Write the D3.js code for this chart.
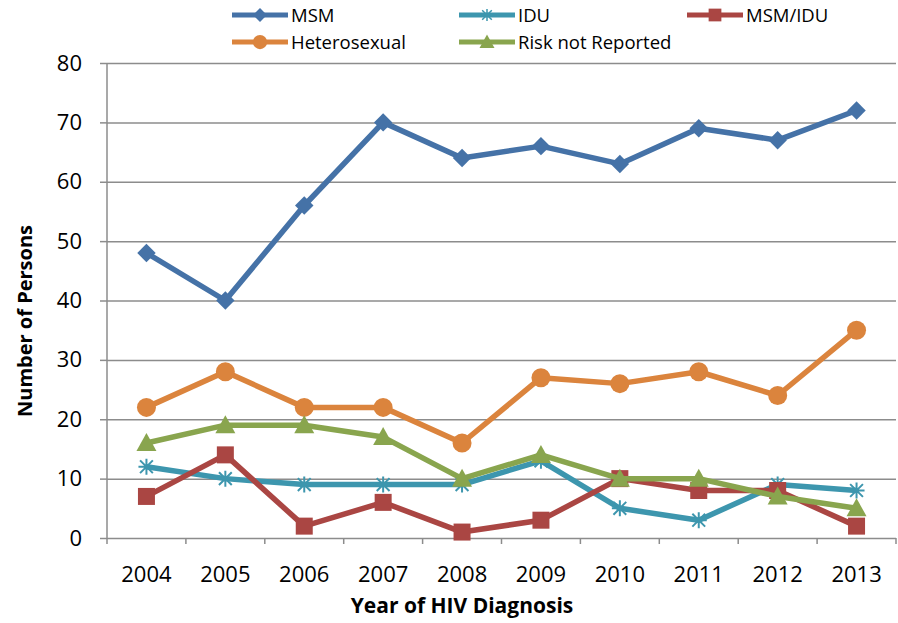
<!DOCTYPE html>
<html lang="en">
<head>
  <meta charset="UTF-8">
  <title>HIV diagnoses by risk</title>
  <style>
    body { margin: 0; background: #fff; }
    text { font-family: "Open Sans", "Noto Sans", sans-serif; fill: #000; }
  </style>
</head>
<body>
  <svg id="svg" width="898" height="623"></svg>
  <script src="https://cdn.jsdelivr.net/npm/d3@7"></script>
  <script>
    const years = ['2004', '2005', '2006', '2007', '2008', '2009', '2010', '2011', '2012', '2013']
    const msm = [48, 40, 56, 70, 64, 66, 63, 69, 67, 72]
    const idu = [12, 10, 9, 9, 9, 13, 5, 3, 9, 8]
    const msmIdu = [7, 14, 2, 6, 1, 3, 10, 8, 8, 2]
    const hetero = [22, 28, 22, 22, 16, 27, 26, 28, 24, 35]
    const notReported = [16, 19, 19, 17, 10, 14, 10, 10, 7, 5]
    const yTicks = [0, 10, 20, 30, 40, 50, 60, 70, 80]

    const series = [
      { name: 'MSM', values: msm, color: '#4572A7', marker: 'diamond' },
      { name: 'IDU', values: idu, color: '#3D96AE', marker: 'star' },
      { name: 'MSM/IDU', values: msmIdu, color: '#AA4643', marker: 'square' },
      { name: 'Heterosexual', values: hetero, color: '#DB843D', marker: 'circle' },
      { name: 'Risk not Reported', values: notReported, color: '#89A54E', marker: 'triangle' }
    ]

    const margin = { top: 63, right: 2, bottom: 85, left: 107 }
    const width = 898 - margin.left - margin.right
    const height = 623 - margin.top - margin.bottom

    const svg = d3.select('#svg')

    const xscale = d3.scaleBand()
      .domain(years)
      .range([margin.left, margin.left + width])

    const yscale = d3.scaleLinear()
      .domain([0, 80])
      .range([margin.top + height, margin.top])

    // gridlines + left axis
    const leftAxis = d3.axisLeft(yscale)
      .tickValues(yTicks)
      .tickSize(-width)
      .tickPadding(25)
    const gy = svg.append('g')
      .attr('transform', `translate(${margin.left}, 0)`)
      .call(leftAxis)
    gy.select('.domain').remove()
    gy.selectAll('.tick line').attr('stroke', '#8c8c8c').attr('stroke-width', 1.5)
    gy.selectAll('.tick').append('line')
      .attr('x1', -7).attr('x2', 0)
      .attr('stroke', '#8c8c8c').attr('stroke-width', 1.5)
    gy.selectAll('.tick text').style('font-size', '22px')

    svg.append('line')
      .attr('x1', margin.left).attr('x2', margin.left)
      .attr('y1', margin.top).attr('y2', margin.top + height)
      .attr('stroke', '#8c8c8c').attr('stroke-width', 1.5)

    // bottom axis
    const bottomAxis = d3.axisBottom(xscale).tickSize(0).tickPadding(28)
    const gx = svg.append('g')
      .attr('transform', `translate(0, ${margin.top + height})`)
      .call(bottomAxis)
    gx.select('.domain').remove()
    gx.selectAll('.tick text').style('font-size', '22px')
    const edges = years.map(y => xscale(y)).concat([margin.left + width])
    gx.selectAll('.edge')
      .data(edges)
      .enter()
      .append('line')
      .attr('x1', d => d).attr('x2', d => d)
      .attr('y1', 0).attr('y2', 6)
      .attr('stroke', '#8c8c8c').attr('stroke-width', 1.5)

    // axis titles
    svg.append('text')
      .attr('x', 462).attr('y', 613)
      .attr('text-anchor', 'middle')
      .style('font-size', '21px').style('font-weight', 'bold')
      .text('Year of HIV Diagnosis')

    svg.append('text')
      .attr('transform', 'translate(32, 321) rotate(-90)')
      .attr('text-anchor', 'middle')
      .style('font-size', '20px').style('font-weight', 'bold')
      .text('Number of Persons')

    // markers
    function drawMarker(g, type, color) {
      if (type === 'diamond') {
        g.append('path').attr('d', d3.symbol().type(d3.symbolSquare).size(170)())
          .attr('transform', 'rotate(45)').attr('fill', color)
      } else if (type === 'square') {
        g.append('path').attr('d', d3.symbol().type(d3.symbolSquare).size(289)())
          .attr('fill', color)
      } else if (type === 'circle') {
        g.append('circle').attr('r', 9.5).attr('fill', color)
      } else if (type === 'triangle') {
        g.append('path').attr('d', 'M0,-10L10,8L-10,8Z').attr('fill', color)
      } else if (type === 'star') {
        const r = 8
        const d = `M0,${-r}V${r}M${-r * 0.8},${-r * 0.8}L${r * 0.8},${r * 0.8}M${r * 0.8},${-r * 0.8}L${-r * 0.8},${r * 0.8}M${-r},0H${r}`
        g.append('path').attr('d', d).attr('stroke', color).attr('stroke-width', 2).attr('fill', 'none')
      }
    }

    const cx = d => xscale(d) + xscale.bandwidth() / 2
    const line = d3.line()
      .x((d, i) => cx(years[i]))
      .y(d => yscale(d))

    series.forEach(s => {
      const g = svg.append('g')
      g.append('path')
        .attr('d', line(s.values))
        .attr('fill', 'none')
        .attr('stroke', s.color)
        .attr('stroke-width', 5.5)
        .attr('stroke-linejoin', 'round')
      s.values.forEach((v, i) => {
        const m = g.append('g').attr('transform', `translate(${cx(years[i])}, ${yscale(v)})`)
        drawMarker(m, s.marker, s.color)
      })
    })

    // legend
    const legendPos = [
      { x: 232, y: 15 }, { x: 459, y: 15 }, { x: 687, y: 15 },
      { x: 232, y: 42 }, { x: 459, y: 42 }
    ]
    series.forEach((s, i) => {
      const p = legendPos[i]
      const g = svg.append('g').attr('transform', `translate(${p.x}, ${p.y})`)
      g.append('line')
        .attr('x1', 0).attr('x2', 56)
        .attr('stroke', s.color).attr('stroke-width', 5)
      const m = g.append('g').attr('transform', 'translate(28, 0) scale(0.75)')
      drawMarker(m, s.marker, s.color)
      g.append('text')
        .attr('x', 59).attr('y', 6.5)
        .style('font-size', '18.5px')
        .text(s.name)
    })
  </script>
</body>
</html>
